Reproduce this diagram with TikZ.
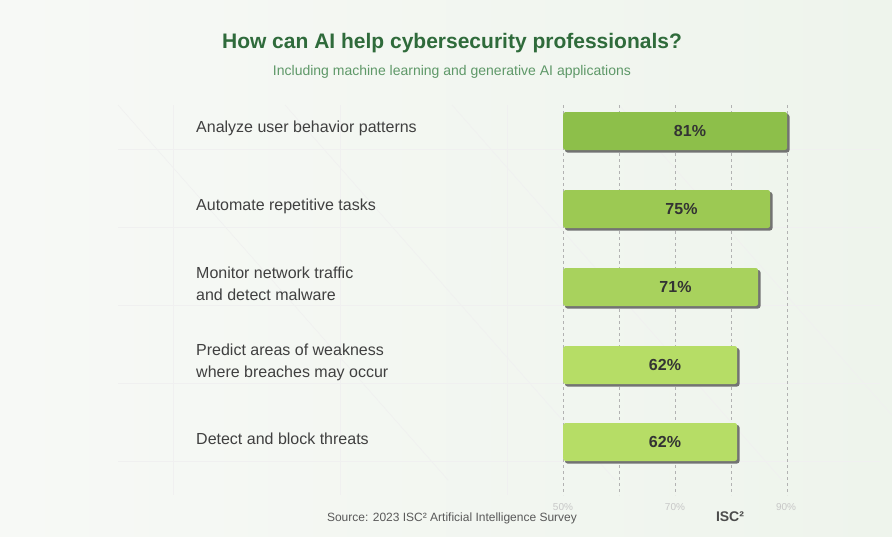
\documentclass[tikz,border=0pt]{standalone}
\usepackage{fontspec}
\setmainfont{Liberation Sans}
\begin{document}
\begin{tikzpicture}[x=1pt,y=-1pt,
  bar/.style={rounded corners=2.5pt,minimum height=38pt,inner sep=0pt,anchor=west},
  lab/.style={anchor=west,align=left,font=\fontsize{16}{22}\selectfont,text=black!75,inner sep=0pt},
  pct/.style={font=\bfseries\fontsize{16}{18}\selectfont,text=black!80},
  axl/.style={font=\fontsize{10}{12}\selectfont,text=black!22},
  grid/.style={draw=black!6,line width=0.6pt},
  dgrid/.style={draw=black!30,dashed,line width=0.6pt}]
\definecolor{bgA}{HTML}{F7F9F6}\definecolor{bgB}{HTML}{EEF4EC}
\definecolor{ttl}{HTML}{2F6B3B}\definecolor{sub}{HTML}{5E9868}
\definecolor{cA}{HTML}{8DBF4A}\definecolor{cB}{HTML}{9CC953}
\definecolor{cC}{HTML}{A8D25D}\definecolor{cD}{HTML}{B6DD66}
\useasboundingbox (0,0) rectangle (892,536);
\shade[left color=bgA,right color=bgB] (0,0) rectangle (892,536);
% faint background grid
\foreach \yy in {149,227,305,383,461} \draw[grid] (118,\yy) -- (880,\yy);
\foreach \xx in {173,340,507} \draw[grid] (\xx,105) -- (\xx,495);
\foreach \xx in {118,285,452,619} \draw[grid] (\xx,105) -- (\xx+330,480);
% dashed axis lines
\foreach \xx in {563,619,675,731,787} \draw[dgrid] (\xx,105) -- (\xx,495);
\node[font=\bfseries\fontsize{21}{24}\selectfont,text=ttl] (title) at (452,43) {How can AI help cybersecurity professionals?};
\node[font=\fontsize{14}{16}\selectfont,text=sub] (subt) at (452,72) {Including machine learning and generative AI applications};
\foreach \n/\y/\r/\c/\v/\t in {
 a/131/787/cA/81/{Analyze user behavior patterns},
 b/209/770/cB/75/{Automate repetitive tasks},
 c/287/758/cC/71/{Monitor network traffic\\and detect malware},
 d/365/737/cD/62/{Predict areas of weakness\\where breaches may occur},
 e/442/737/cD/62/{Detect and block threats}}{
  \fill[black!55,rounded corners=2.5pt] (565,\y-17) rectangle (\r+2.5,\y+21.5);
  \node[bar,fill=\c,minimum width=\r-563] (bar\n) at (563,\y) {};
  \node[pct] (p\n) at ({(563+\r)/2+15},\y) {\v\%};
  \node[lab] (l\n) at (196,\y-3) {\t};
}
\node[axl] (a50) at (563,507) {50\%};
\node[axl] (a70) at (675,507) {70\%};
\node[axl] (a90) at (786,507) {90\%};
\node[font=\fontsize{12}{14}\selectfont,text=black!65] (src) at (452,518) {Source: 2023 ISC² Artificial Intelligence Survey};
\node[font=\bfseries\fontsize{14}{16}\selectfont,text=black!70] (isc) at (730,517) {ISC²};
\end{tikzpicture}
\end{document}
